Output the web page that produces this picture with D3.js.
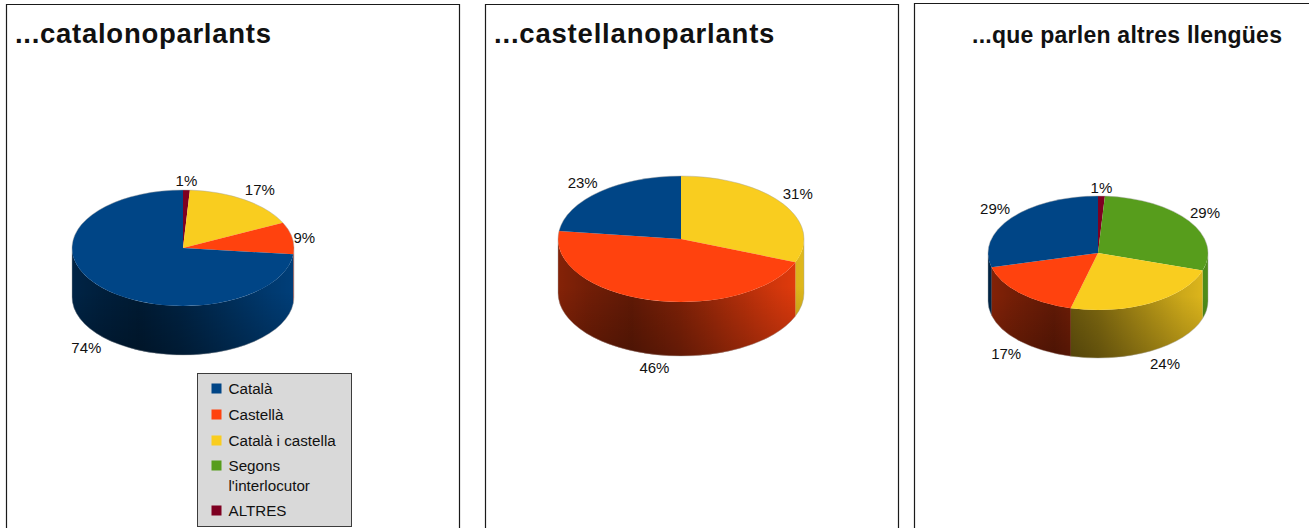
<!DOCTYPE html>
<html>
<head>
<meta charset="utf-8">
<script src="https://cdn.jsdelivr.net/npm/d3@7"></script>
<style>
html,body{margin:0;padding:0;background:#fff;overflow:hidden}
svg{display:block}
text{font-family:"Liberation Sans",Arial,sans-serif;fill:#111}
</style>
</head>
<body>
<svg id="chart" width="1309" height="528"></svg>
<script>
// Language categories, in the order the slices run clockwise from twelve o'clock.
const sliceOrder = ["ALTRES", "Segons l'interlocutor", "Català i castella", "Castellà", "Català"];
const legendOrder = ["Català", "Castellà", "Català i castella", "Segons l'interlocutor", "ALTRES"];

// Share of each language, in percent, per group of speakers.
const catalanSpeakers = [1, 0, 17, 9, 74];
const spanishSpeakers = [0, 0, 31, 46, 23];
const otherSpeakers = [1, 29, 24, 17, 29];

const titles = ["...catalonoparlants", "...castellanoparlants", "...que parlen altres llengües"];

const palette = d3.scaleOrdinal()
  .domain(legendOrder)
  .range(["#004586", "#ff420e", "#f9cd1f", "#579d1c", "#7e0021"]);

// Frame, title and pie geometry of each panel, with label nudges away from the rim.
const panels = [
  {values: catalanSpeakers, title: titles[0], frame: [6.5, 4, 453], titleX: 15, titleSize: 27.5, titleSpacing: 0.72,
   cx: 183, cy: 248, rx: 111, ry: 58, depth: 49,
   nudge: {"ALTRES": [0, -9], "Català i castella": [15, -10], "Castellà": [12, 0], "Català": [-14, 12]}},
  {values: spanishSpeakers, title: titles[1], frame: [485.5, 4, 413], titleX: 494, titleSize: 27.5, titleSpacing: 0.8,
   cx: 681, cy: 239, rx: 123, ry: 63, depth: 54,
   nudge: {"Català i castella": [15, -10], "Castellà": [4, 14], "Català": [-17, -9]}},
  {values: otherSpeakers, title: titles[2], frame: [914.5, 3, 420], titleX: 972, titleSize: 23, titleSpacing: 0.25,
   cx: 1098, cy: 253, rx: 110, ry: 57, depth: 48,
   nudge: {"ALTRES": [0, -8], "Segons l'interlocutor": [16, -8], "Català i castella": [14, 13], "Castellà": [-14, 13], "Català": [-16, -9]}}
];

const svg = d3.select("#chart");
const defs = svg.append("defs");

// Horizontal light falloff across the pie wall: dark left of centre, bright on the right.
const wallShade = [[0, 0.48], [0.12, 0.55], [0.3, 0.62], [0.5, 0.5], [0.7, 0.33], [0.88, 0.18], [1, 0.1]];
// Extra darkening towards the bottom edge of the wall, strongest at the front.
const wallFoot = [[0, 0], [1, 0.22]];
const pie = d3.pie().sort(null).value(d => d.value).startAngle(0).endAngle(2 * Math.PI);

panels.forEach((p, i) => {
  const g = svg.append("g");
  const [fx, fy, fw] = p.frame;
  g.append("path")
    .attr("d", `M${fx},528V${fy + .5}H${fx + fw}V528`)
    .attr("fill", "none").attr("stroke", "#1a1a1a").attr("stroke-width", 1.2);

  g.append("text").attr("x", p.titleX).attr("y", 43)
    .attr("font-size", p.titleSize).attr("font-weight", "bold")
    .attr("letter-spacing", p.titleSpacing).text(p.title);

  const slices = pie(sliceOrder.map((name, k) => ({name, value: p.values[k]})))
    .filter(d => d.value > 0);

  const gradId = `wall-shade-${i}`;
  defs.append("linearGradient").attr("id", gradId).attr("gradientUnits", "userSpaceOnUse")
    .attr("x1", p.cx - p.rx).attr("x2", p.cx + p.rx).attr("y1", 0).attr("y2", 0)
    .selectAll("stop").data(wallShade).join("stop")
    .attr("offset", d => d[0]).attr("stop-color", "#000").attr("stop-opacity", d => d[1]);

  const footId = `wall-foot-${i}`;
  defs.append("linearGradient").attr("id", footId).attr("gradientUnits", "userSpaceOnUse")
    .attr("x1", 0).attr("x2", 0).attr("y1", p.cy + p.ry * 0.75).attr("y2", p.cy + p.ry + p.depth)
    .selectAll("stop").data(wallFoot).join("stop")
    .attr("offset", d => d[0]).attr("stop-color", "#000").attr("stop-opacity", d => d[1]);

  const rimX = a => p.cx + p.rx * Math.sin(a);
  const rimY = a => p.cy - p.ry * Math.cos(a);

  // Outer wall: only the part of each slice on the near half of the ellipse shows.
  const wallPath = d => {
    const a0 = Math.max(d.startAngle, Math.PI / 2);
    const a1 = Math.min(d.endAngle, 3 * Math.PI / 2);
    if (a1 <= a0) return null;
    return `M${rimX(a0)},${rimY(a0)}` +
      `A${p.rx},${p.ry} 0 0 1 ${rimX(a1)},${rimY(a1)}` +
      `V${rimY(a1) + p.depth}` +
      `A${p.rx},${p.ry} 0 0 0 ${rimX(a0)},${rimY(a0) + p.depth}Z`;
  };
  const walls = slices.filter(d => wallPath(d));
  g.append("g").selectAll("path").data(walls).join("path")
    .attr("d", wallPath).attr("fill", d => palette(d.data.name));
  g.append("g").selectAll("path").data(walls).join("path")
    .attr("d", wallPath).attr("fill", `url(#${gradId})`);
  g.append("g").selectAll("path").data(walls).join("path")
    .attr("d", wallPath).attr("fill", `url(#${footId})`);

  // Top face: a circular d3.arc squashed into an ellipse.
  const arc = d3.arc().innerRadius(0).outerRadius(p.rx);
  g.append("g")
    .attr("transform", `translate(${p.cx},${p.cy}) scale(1,${p.ry / p.rx})`)
    .selectAll("path").data(slices).join("path")
    .attr("d", arc).attr("fill", d => palette(d.data.name));

  // Thin grey rim around the whole solid.
  g.append("path")
    .attr("d", `M${p.cx - p.rx},${p.cy}A${p.rx},${p.ry} 0 0 1 ${p.cx + p.rx},${p.cy}` +
      `V${p.cy + p.depth}A${p.rx},${p.ry} 0 0 1 ${p.cx - p.rx},${p.cy + p.depth}Z`)
    .attr("fill", "none").attr("stroke", "#a0a0a0").attr("stroke-width", 0.8).attr("opacity", 0.55);

  // Percentage labels anchored on the rim, lower rim for the near half.
  g.append("g").selectAll("text").data(slices).join("text")
    .attr("text-anchor", "middle").attr("font-size", 15)
    .attr("x", d => {
      const a = (d.startAngle + d.endAngle) / 2;
      return rimX(a) + p.nudge[d.data.name][0];
    })
    .attr("y", d => {
      const a = (d.startAngle + d.endAngle) / 2;
      return rimY(a) + (Math.cos(a) < 0 ? p.depth : 0) + p.nudge[d.data.name][1] + 5;
    })
    .text(d => `${d.value}%`);
});

// Legend box shared by the three pies, drawn in the first panel.
const legend = svg.append("g").attr("transform", "translate(197.5,373.5)");
legend.append("rect").attr("width", 154).attr("height", 153)
  .attr("fill", "#d9d9d9").attr("stroke", "#3c3c3c").attr("stroke-width", 1);
const legendBase = {"Català": 15, "Castellà": 41, "Català i castella": 67, "Segons l'interlocutor": 92, "ALTRES": 137};
const row = legend.selectAll("g").data(legendOrder).join("g")
  .attr("transform", d => `translate(0,${legendBase[d]})`);
row.append("rect").attr("x", 14).attr("y", -5).attr("width", 10).attr("height", 10)
  .attr("fill", d => palette(d));
row.append("text").attr("x", 31).attr("y", 5).attr("font-size", 15.2).each(function (d) {
  const t = d3.select(this);
  if (d === "Segons l'interlocutor") {
    t.append("tspan").attr("x", 31).text("Segons");
    t.append("tspan").attr("x", 31).attr("dy", 20).text("l'interlocutor");
  } else {
    t.text(d);
  }
});
</script>
</body>
</html>
